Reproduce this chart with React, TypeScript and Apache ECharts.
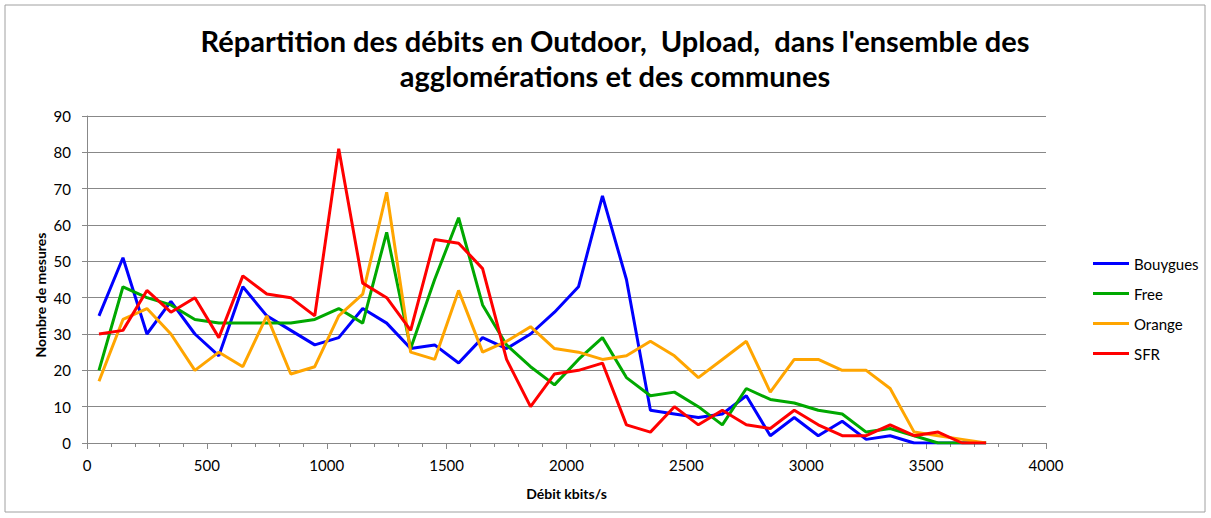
import React, { useEffect, useRef } from "react";
import * as echarts from "echarts";

const xValues = [50,150,250,350,450,550,650,750,850,950,1050,1150,1250,1350,1450,1550,1650,1750,1850,1950,2050,2150,2250,2350,2450,2550,2650,2750,2850,2950,3050,3150,3250,3350,3450,3550,3650,3750];
const bouygues = [35,51,30,39,30,24,43,35,31,27,29,37,33,26,27,22,29,26,30,36,43,68,45,9,8,7,8,13,2,7,2,6,1,2,0,0,0,0];
const free = [20,43,40,38,34,33,33,33,33,34,37,33,58,26,45,62,38,27,21,16,23,29,18,13,14,10,5,15,12,11,9,8,3,4,2,0,0,0];
const orange = [17,34,37,30,20,25,21,35,19,21,35,41,69,25,23,42,25,28,32,26,25,23,24,28,24,18,23,28,14,23,23,20,20,15,3,2,1,0];
const sfr = [30,31,42,36,40,29,46,41,40,35,81,44,40,31,56,55,48,23,10,19,20,22,5,3,10,5,9,5,4,9,5,2,2,5,2,3,0,0];

const seriesNames = ["Bouygues", "Free", "Orange", "SFR"];
const seriesColors = ["#0000FF", "#00A800", "#FFA500", "#FF0000"];
const seriesData = [bouygues, free, orange, sfr];

const FONT = "Lato, 'Open Sans', sans-serif";

export default function App() {
  const ref = useRef<HTMLDivElement>(null);
  useEffect(() => {
    document.body.style.margin = "0";
    const chart = echarts.init(ref.current!, null, { renderer: "svg" });
    chart.setOption({
      animation: false,
      backgroundColor: "#ffffff",
      title: {
        text: "Répartition des débits en Outdoor,  Upload,  dans l'ensemble des\nagglomérations et des communes",
        left: 610,
        textAlign: "center",
        top: 18,
        textStyle: { fontFamily: FONT, fontSize: 29, fontWeight: "bold", color: "#000", lineHeight: 35 },
      },
      legend: {
        orient: "vertical",
        left: 1088,
        top: 251,
        itemWidth: 36,
        itemHeight: 3,
        itemGap: 15,
        icon: "rect",
        textStyle: { fontFamily: FONT, fontSize: 15, color: "#000" },
        data: seriesNames,
      },
      graphic: [
        {
          type: "rect",
          shape: { x: 5, y: 5, width: 1200, height: 507 },
          style: { fill: "none", stroke: "#a0a0a0", lineWidth: 1 },
          silent: true,
        },
        {
          type: "text",
          x: 40,
          y: 295,
          rotation: Math.PI / 2,
          style: {
            text: "Nombre de mesures",
            fontFamily: FONT,
            fontSize: 14,
            fontWeight: "bold",
            fill: "#000",
            align: "center",
            verticalAlign: "middle",
          },
          silent: true,
        },
      ],
      grid: { left: 87, right: 1211 - 1046, top: 116, bottom: 518 - 443, containLabel: false },
      xAxis: {
        type: "value",
        min: 0,
        max: 4000,
        interval: 500,
        name: "Débit kbits/s",
        nameLocation: "middle",
        nameGap: 43,
        nameTextStyle: { fontFamily: FONT, fontSize: 14, fontWeight: "bold", color: "#000" },
        axisLine: { show: true, lineStyle: { color: "#888", width: 1 } },
        axisTick: { show: true, length: 6, lineStyle: { color: "#888" } },
        minorTick: { show: true, splitNumber: 5, length: 4, lineStyle: { color: "#888" } },
        axisLabel: { fontFamily: FONT, fontSize: 15, color: "#000", margin: 14, formatter: (v: number) => String(v) },
        splitLine: { show: false },
      },
      yAxis: {
        type: "value",
        min: 0,
        max: 90,
        interval: 10,
        axisLine: { show: true, lineStyle: { color: "#888", width: 1 } },
        axisTick: { show: true, length: 5, lineStyle: { color: "#888" } },
        axisLabel: { fontFamily: FONT, fontSize: 15, color: "#000", margin: 16, formatter: (v: number) => String(v) },
        splitLine: { show: true, lineStyle: { color: "#888", width: 1 } },
      },
      series: seriesNames.map((name, i) => ({
        name,
        type: "line",
        data: xValues.map((x, j) => [x, seriesData[i][j]]),
        showSymbol: false,
        symbol: "none",
        lineStyle: { color: seriesColors[i], width: 3 },
        itemStyle: { color: seriesColors[i] },
      })),
    });
    return () => chart.dispose();
  }, []);
  return <div ref={ref} style={{ width: 1211, height: 518 }} />;
}
